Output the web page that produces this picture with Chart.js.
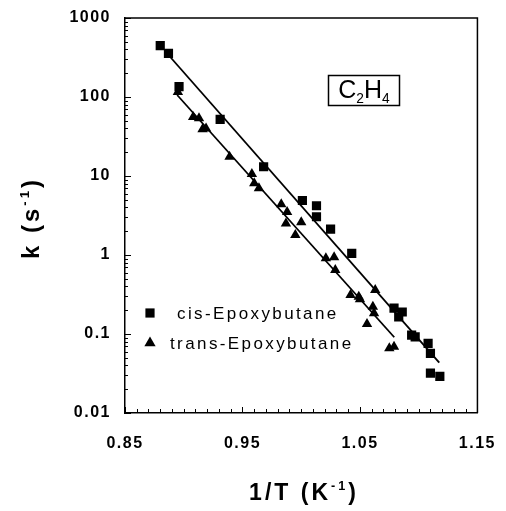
<!DOCTYPE html>
<html>
<head>
<meta charset="utf-8">
<script src="https://cdn.jsdelivr.net/npm/chart.js@4.4.1/dist/chart.umd.min.js"></script>
<style>
  html, body { margin: 0; padding: 0; background: #fff; }
  #wrap { width: 506px; height: 511px; }
</style>
</head>
<body>
<div id="wrap"><canvas id="arrhenius" width="506" height="511"></canvas></div>
<script>
  // cis-Epoxybutane (squares)
  const cisX = [0.880, 0.887, 0.896, 0.931, 0.968, 1.001, 1.013, 1.013, 1.025, 1.043,
                1.079, 1.086, 1.083, 1.094, 1.097, 1.108, 1.110, 1.110, 1.118];
  const cisK = [446, 357, 135, 52, 13.1, 4.9, 4.2, 3.05, 2.13, 1.05,
                0.213, 0.19, 0.164, 0.097, 0.092, 0.076, 0.057, 0.032, 0.029];

  // trans-Epoxybutane (triangles)
  const transX = [0.895, 0.908, 0.913, 0.916, 0.919, 0.939, 0.958, 0.960, 0.964, 0.983,
                  0.988, 0.987, 0.995, 1.000, 1.021, 1.028, 1.029, 1.042, 1.049, 1.050,
                  1.063, 1.061, 1.062, 1.056, 1.075, 1.079];
  const transK = [116, 56, 53.7, 39, 40, 17.5, 10.6, 8.1, 7.0, 4.4,
                  3.5, 2.5, 1.79, 2.6, 0.91, 0.935, 0.646, 0.312, 0.296, 0.275,
                  0.36, 0.222, 0.183, 0.134, 0.066, 0.069];

  // fitted lines (end points)
  const cisFitX = [0.887, 1.1175];
  const cisFitK = [340, 0.0434];
  const transFitX = [0.8944, 1.0792];
  const transFitK = [106, 0.091];

  const xTicks = [0.85, 0.95, 1.05, 1.15];
  const yTicks = [0.01, 0.1, 1, 10, 100, 1000];
  const yTickLabels = ['0.01', '0.1', '1', '10', '100', '1000'];

  const seriesNames = ['cis-Epoxybutane', 'trans-Epoxybutane'];

  const toPts = (xs, ys) => xs.map((x, i) => ({ x: x, y: ys[i] }));

  // draws text made of normal / sup / sub pieces, centred on x
  function drawParts(ctx, parts, x, y, size, weight, spacing) {
    ctx.save();
    ctx.letterSpacing = spacing + 'px';
    ctx.textBaseline = 'alphabetic';
    ctx.textAlign = 'left';
    let total = 0;
    parts.forEach(p => {
      const s = p.mode ? size * 0.55 : size;
      ctx.font = weight + ' ' + s + 'px "Liberation Sans", Arial, sans-serif';
      p.w = ctx.measureText(p.t).width;
      total += p.w;
    });
    let cx = x - total / 2;
    parts.forEach(p => {
      const s = p.mode ? size * 0.55 : size;
      ctx.font = weight + ' ' + s + 'px "Liberation Sans", Arial, sans-serif';
      let dy = 0;
      if (p.mode === 'sup') dy = -size * 0.42;
      if (p.mode === 'sub') dy = size * 0.18;
      ctx.fillText(p.t, cx, y + dy);
      cx += p.w;
    });
    ctx.restore();
  }

  const decor = {
    id: 'decor',
    beforeDraw(chart) {
      chart.ctx.letterSpacing = '1.5px';
    },
    afterDraw(chart) {
      const ctx = chart.ctx;
      const a = chart.chartArea;
      const xs = chart.scales.x;
      const ys = chart.scales.y;
      ctx.save();
      ctx.strokeStyle = '#000';
      ctx.fillStyle = '#000';
      ctx.lineWidth = 1.5;

      // top and right frame
      ctx.beginPath();
      ctx.moveTo(a.left, a.top);
      ctx.lineTo(a.right, a.top);
      ctx.lineTo(a.right, a.bottom);
      ctx.stroke();

      // inward ticks on x axis, every 0.01
      ctx.lineWidth = 1;
      ctx.beginPath();
      for (let i = 0; i <= 30; i++) {
        const v = 0.85 + i * 0.01;
        const px = Math.round(xs.getPixelForValue(v)) + 0.5;
        const len = (i % 10 === 0) ? 6 : 4;
        ctx.moveTo(px, a.bottom);
        ctx.lineTo(px, a.bottom - len);
      }
      // inward log ticks on y axis
      for (let d = -2; d <= 3; d++) {
        for (let m = 1; m <= 9; m++) {
          const v = m * Math.pow(10, d);
          if (v > 1000.001) break;
          const py = Math.round(ys.getPixelForValue(v)) + 0.5;
          const len = m === 1 ? 6 : 3;
          ctx.moveTo(a.left, py);
          ctx.lineTo(a.left + len, py);
        }
      }
      ctx.stroke();

      // C2H4 label box
      ctx.lineWidth = 1.5;
      ctx.strokeRect(328.5, 75.5, 71, 30);
      drawParts(ctx, [{ t: 'C' }, { t: '2', mode: 'sub' }, { t: 'H' }, { t: '4', mode: 'sub' }],
        364, 98, 25, 'normal', 0);

      // legend
      const H = Chart.helpers;
      H.drawPoint(ctx, { pointStyle: 'rect', radius: 6.5, rotation: 0, borderWidth: 0 }, 150, 313);
      H.drawPoint(ctx, { pointStyle: 'triangle', radius: 6.5, rotation: 0, borderWidth: 0 }, 150, 343);
      ctx.save();
      ctx.letterSpacing = '2.4px';
      ctx.font = 'normal 17px "Liberation Sans", Arial, sans-serif';
      ctx.textBaseline = 'alphabetic';
      ctx.textAlign = 'left';
      ctx.fillText(seriesNames[0], 177, 319);
      ctx.fillText(seriesNames[1], 170, 349);
      ctx.restore();

      // axis titles
      drawParts(ctx, [{ t: '1/T (K' }, { t: '-1', mode: 'sup' }, { t: ')' }], 304, 500, 23, 'bold', 3);
      ctx.save();
      ctx.translate(39, 218);
      ctx.rotate(-Math.PI / 2);
      drawParts(ctx, [{ t: 'k (s' }, { t: '-1', mode: 'sup' }, { t: ')' }], 0, 0, 24, 'bold', 3);
      ctx.restore();

      ctx.restore();
    }
  };

  const config = {
    type: 'scatter',
    data: {
      datasets: [
        {
          label: seriesNames[0],
          data: toPts(cisX, cisK),
          pointStyle: 'rect',
          pointRadius: 6.5,
          backgroundColor: '#000',
          borderColor: '#000',
          borderWidth: 0
        },
        {
          label: seriesNames[1],
          data: toPts(transX, transK),
          pointStyle: 'triangle',
          pointRadius: 6,
          backgroundColor: '#000',
          borderColor: '#000',
          borderWidth: 0
        },
        {
          type: 'line',
          label: 'cis fit',
          data: toPts(cisFitX, cisFitK),
          borderColor: '#000',
          borderWidth: 1.8,
          pointRadius: 0,
          fill: false
        },
        {
          type: 'line',
          label: 'trans fit',
          data: toPts(transFitX, transFitK),
          borderColor: '#000',
          borderWidth: 1.8,
          pointRadius: 0,
          fill: false
        }
      ]
    },
    options: {
      responsive: false,
      animation: false,
      layout: { padding: { left: 0, right: 22, top: 18, bottom: 0 } },
      scales: {
        x: {
          type: 'linear',
          min: 0.85,
          max: 1.15,
          afterBuildTicks: s => { s.ticks = xTicks.map(v => ({ value: v })); },
          afterFit: s => { s.height = 98; },
          grid: { display: false },
          border: { display: true, color: '#000', width: 1.5 },
          ticks: {
            color: '#000',
            padding: 13,
            maxRotation: 0,
            font: { family: '"Liberation Sans", Arial, sans-serif', size: 16, weight: 'bold' },
            callback: v => v.toFixed(2)
          }
        },
        y: {
          type: 'logarithmic',
          min: 0.01,
          max: 1000,
          afterBuildTicks: s => { s.ticks = yTicks.map(v => ({ value: v })); },
          afterFit: s => { s.width = 125; },
          grid: { display: false },
          border: { display: true, color: '#000', width: 1.5 },
          ticks: {
            color: '#000',
            padding: 6,
            font: { family: '"Liberation Sans", Arial, sans-serif', size: 16, weight: 'bold' },
            callback: (v, i) => yTickLabels[i]
          }
        }
      },
      plugins: {
        legend: { display: false },
        tooltip: { enabled: false }
      }
    },
    plugins: [decor]
  };

  const arrheniusChart = new Chart(
    document.getElementById('arrhenius'),
    config
  );
</script>
</body>
</html>
